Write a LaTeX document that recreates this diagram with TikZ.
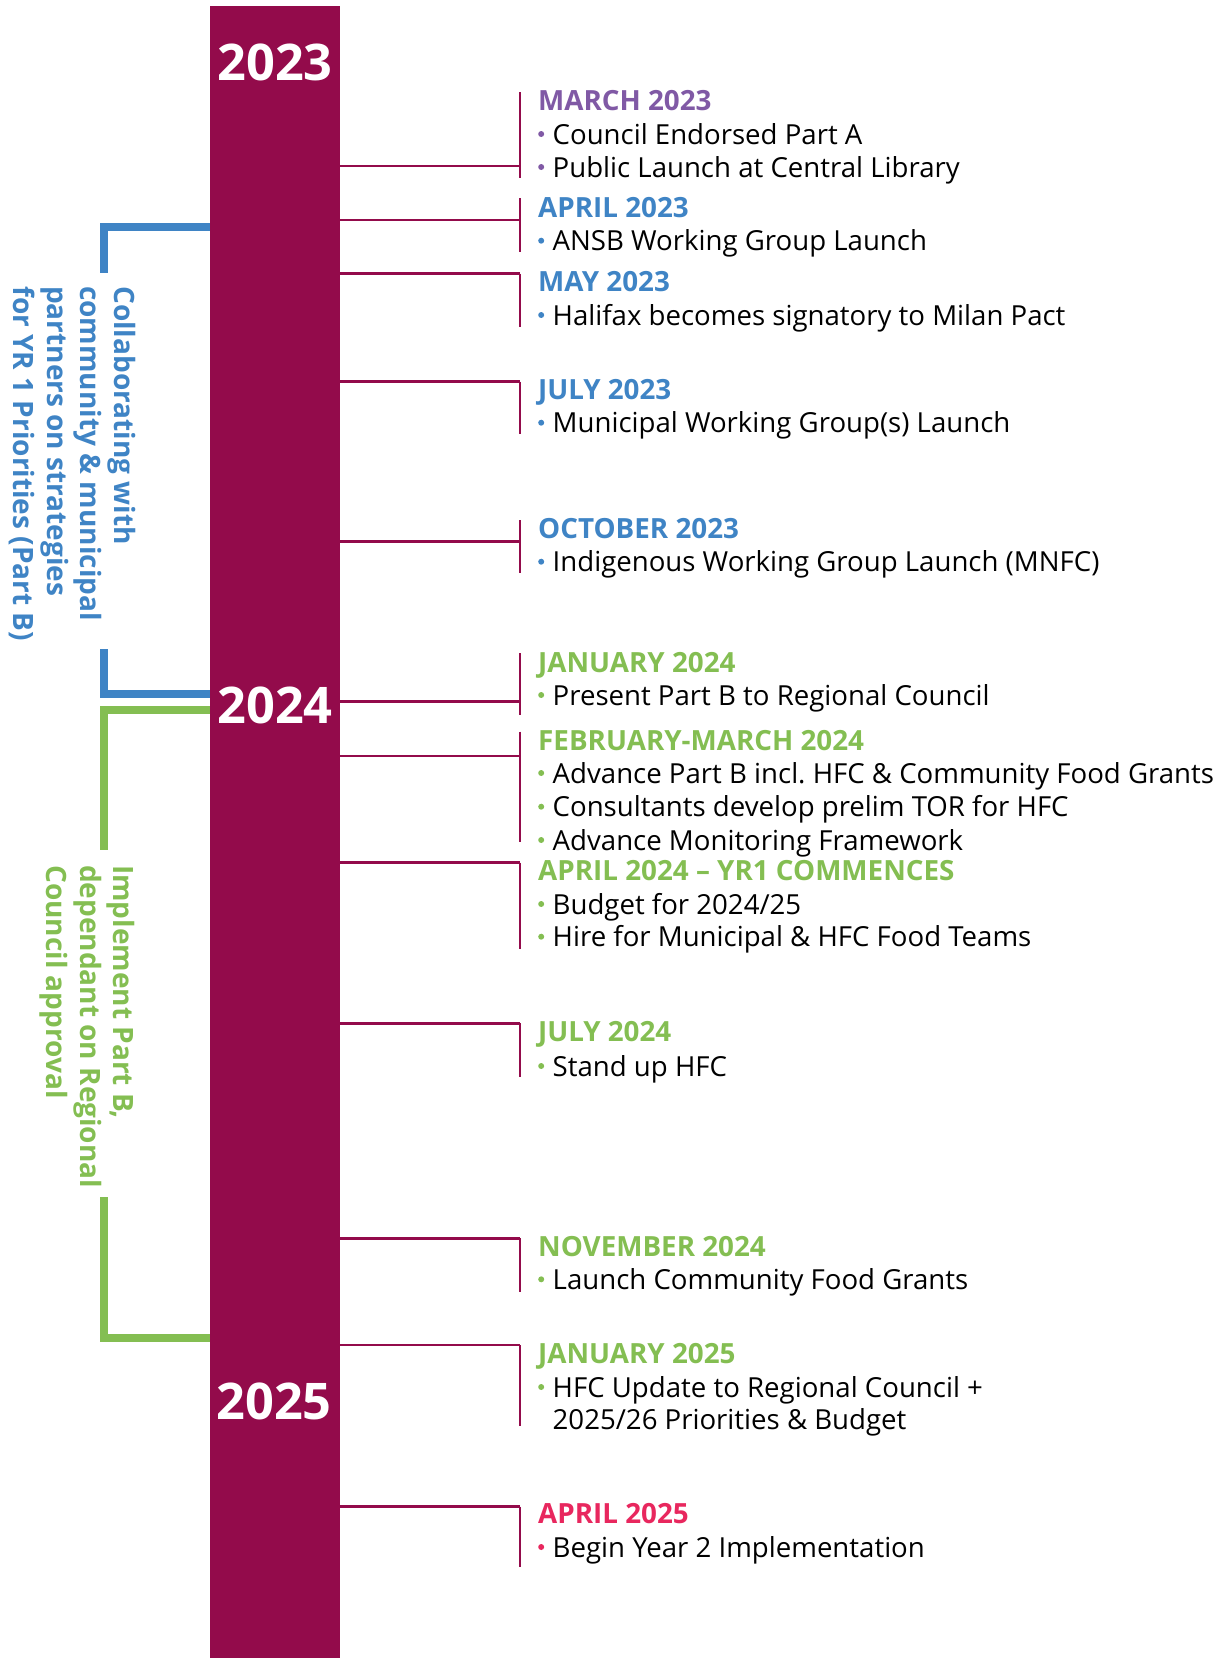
\documentclass[tikz,border=0pt]{standalone}
\usepackage{fontspec}
\setmainfont{Open Sans}
\frenchspacing
\definecolor{barc}{HTML}{930B4B}
\definecolor{purp}{HTML}{8059A5}
\definecolor{blu}{HTML}{3F84C5}
\definecolor{grn}{HTML}{84BE52}
\definecolor{pnk}{HTML}{E8275E}
\begin{document}
\begin{tikzpicture}[x=1pt,y=-1pt,
  conn/.style={draw=barc, line width=2.5pt},
  hdr/.style={anchor=base west, inner sep=0pt, font=\fontsize{27.8}{33}\selectfont\bfseries, text=#1},
  txt/.style={anchor=base west, inner sep=0pt, font=\fontsize{27.6}{33}\selectfont, text=black},
  yr/.style={anchor=base, inner sep=0pt, font=\fontsize{50.5}{60}\selectfont\bfseries, text=white},
  side/.style={rotate=-90, anchor=base west, inner sep=0pt, font=\fontsize{28}{33}\selectfont\bfseries, text=#1},
  brk/.style={draw=#1, line width=8pt},
  bul/.style={fill=#1}]
\useasboundingbox (0,0) rectangle (1225,1658);

% main bar
\node[fill=barc, inner sep=0pt, minimum width=130pt, minimum height=1652pt, anchor=north west] (bar) at (210,6) {};
\node[yr] (y23) at (275,80) {2023};
\node[yr] (y24) at (275,723) {2024};
\node[yr] (y25) at (274,1419) {2025};

% brackets
\coordinate (bb1) at (104,227); \coordinate (bb2) at (104,273);
\coordinate (bb3) at (104,649); \coordinate (bb4) at (104,694);
\draw[brk=blu] (bar.west |- bb1) -- (bb1) -- (bb2);
\draw[brk=blu] (bb3) -- (bb4) -- (bar.west |- bb4);
\coordinate (gb1) at (104,710); \coordinate (gb2) at (104,850);
\coordinate (gb3) at (104,1197); \coordinate (gb4) at (104,1338);
\draw[brk=grn] (bar.west |- gb1) -- (gb1) -- (gb2);
\draw[brk=grn] (gb3) -- (gb4) -- (bar.west |- gb4);

% side texts
\node[side=blu] (s1) at (114,286) {Collaborating with};
\node[side=blu] (s2) at (80.5,286) {community \& municipal};
\node[side=blu] (s3) at (47,286) {partners on strategies};
\node[side=blu] (s4) at (13.5,286) {for YR 1 Priorities (Part B)};
\node[side=grn] (g1) at (113,865) {Implement Part B,};
\node[side=grn] (g2) at (80,865) {dependant on Regional};
\node[side=grn] (g3) at (46.5,865) {Council approval};

% connectors: index / junction y / tick top / tick bottom
\foreach \i/\h/\t/\b in {1/166/92/178, 2/220/198/252, 3/273.5/273.5/327, 4/381.5/381.5/434,
  5/541.7/520/573.3, 6/701.7/653/715, 7/756/731.7/841.7, 8/862.7/862.7/949,
  9/1023.3/1023.3/1077, 10/1238.3/1238.3/1291.7, 11/1345/1345/1426, 12/1506.7/1506.7/1566.7} {
  \coordinate (j\i) at (520,\h);
  \coordinate (tt\i) at (520,\t);
  \coordinate (tb\i) at (520,\b);
  \draw[conn] (bar.east |- j\i) -- (j\i);
  \draw[conn] (tt\i) -- (tb\i);
}

% headers
\node[hdr=purp] (h1) at (538,110.7) {MARCH 2023};
\node[hdr=blu] (h2) at (538,217) {APRIL 2023};
\node[hdr=blu] (h3) at (538,291.7) {MAY 2023};
\node[hdr=blu] (h4) at (538,399.3) {JULY 2023};
\node[hdr=blu] (h5) at (538,538.3) {OCTOBER 2023};
\node[hdr=grn] (h6) at (538,672.7) {JANUARY 2024};
\node[hdr=grn] (h7) at (538,750) {FEBRUARY-MARCH 2024};
\node[hdr=grn] (h8) at (538,880.7) {APRIL 2024 – YR1 COMMENCES};
\node[hdr=grn] (h9) at (538,1041.7) {JULY 2024};
\node[hdr=grn] (h10) at (538,1256.7) {NOVEMBER 2024};
\node[hdr=grn] (h11) at (538,1363) {JANUARY 2025};
\node[hdr=pnk] (h12) at (538,1523.6) {APRIL 2025};

% bullet items: colour / baseline / text
\foreach \c/\y/\s [count=\k] in {
  purp/144/{Council Endorsed Part A},
  purp/177/{Public Launch at Central Library},
  blu/250.7/{ANSB Working Group Launch},
  blu/325/{Halifax becomes signatory to Milan Pact},
  blu/432.7/{Municipal Working Group(s) Launch},
  blu/571.7/{Indigenous Working Group Launch (MNFC)},
  grn/705/{Present Part B to Regional Council},
  grn/783/{Advance Part B incl. HFC \& Community Food Grants},
  grn/816.7/{Consultants develop prelim TOR for HFC},
  grn/850/{Advance Monitoring Framework},
  grn/914/{Budget for 2024/25},
  grn/946.7/{Hire for Municipal \& HFC Food Teams},
  grn/1076/{Stand up HFC},
  grn/1289.3/{Launch Community Food Grants},
  grn/1397/{HFC Update to Regional Council +},
  pnk/1557/{Begin Year 2 Implementation}} {
  \fill[bul=\c] (541.2,\y-10) circle (3);
  \node[txt] (it\k) at (552.5,\y) {\s};
}
\node[txt] (it17) at (552.5,1429.6) {2025/26 Priorities \& Budget};
\end{tikzpicture}
\end{document}
